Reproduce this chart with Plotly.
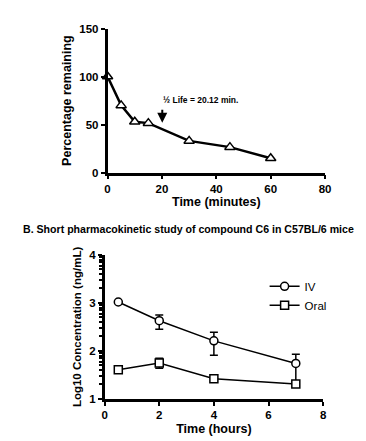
import plotly.graph_objects as go
import math

# Panel A: metabolic stability
time_min = [0, 5, 10, 15, 30, 45, 60]
pct_remaining = [100, 70, 53, 51.5, 33, 26.5, 15]
half_life_x = 20.12
half_life_label = "½ Life = 20.12 min."

# Panel B: pharmacokinetics
time_h = [0.5, 2, 4, 7]
iv = [3.02, 2.63, 2.21, 1.74]
iv_err_plus = [0, 0.12, 0.18, 0.19]
iv_err_minus = [0, 0.18, 0.30, 0.38]
oral = [1.61, 1.75, 1.42, 1.31]
oral_err_plus = [0, 0.10, 0, 0]
oral_err_minus = [0, 0.11, 0, 0]

x_ticks_a = [0, 20, 40, 60, 80]
y_ticks_a = [0, 50, 100, 150]
x_ticks_b = [0, 2, 4, 6, 8]
y_ticks_b = [1, 2, 3, 4]

minor_b = [d + math.log10(k) for d in (1, 2, 3) for k in range(2, 10)]

FONT = "Liberation Sans, Arial, sans-serif"
W, H = 366, 441

fig = go.Figure()

fig.add_trace(go.Scatter(
    x=time_min, y=pct_remaining, mode="lines+markers",
    line=dict(color="black", width=2.5),
    marker=dict(symbol="triangle-up", size=9, color="white",
                line=dict(color="black", width=1.5)),
    cliponaxis=False, showlegend=False, xaxis="x", yaxis="y"))

fig.add_trace(go.Scatter(
    x=time_h, y=iv, mode="lines+markers", name="IV",
    line=dict(color="black", width=1.5),
    marker=dict(symbol="circle", size=8, color="white",
                line=dict(color="black", width=1.5)),
    error_y=dict(type="data", symmetric=False, array=iv_err_plus,
                 arrayminus=iv_err_minus, color="black", thickness=1.5, width=4),
    cliponaxis=False, xaxis="x2", yaxis="y2"))

fig.add_trace(go.Scatter(
    x=time_h, y=oral, mode="lines+markers", name="Oral",
    line=dict(color="black", width=1.5),
    marker=dict(symbol="square", size=8, color="white",
                line=dict(color="black", width=1.5)),
    error_y=dict(type="data", symmetric=False, array=oral_err_plus,
                 arrayminus=oral_err_minus, color="black", thickness=1.5, width=4),
    cliponaxis=False, xaxis="x2", yaxis="y2"))

axis_common = dict(showline=True, linecolor="black", linewidth=2.5,
                   ticks="outside", ticklen=4, tickwidth=2, tickcolor="black",
                   showgrid=False, zeroline=False,
                   tickfont=dict(family=FONT, size=11.5, color="black", weight="bold"))

def px_x(p):
    return p / W

def px_y(p):
    return 1 - p / H

fig.update_layout(
    width=W, height=H, autosize=False,
    margin=dict(l=0, r=0, t=0, b=0),
    paper_bgcolor="white", plot_bgcolor="white",
    font=dict(family=FONT, color="black"),
    xaxis=dict(domain=[px_x(99), px_x(322)], range=[0, 80], tickvals=x_ticks_a,
               anchor="y",
               title=dict(text="Time (minutes)", standoff=3,
                          font=dict(family=FONT, size=12.5, weight="bold")),
               **axis_common),
    yaxis=dict(domain=[px_y(163), px_y(15)], range=[0, 150], tickvals=y_ticks_a,
               anchor="x",
               title=dict(text="Percentage remaining", standoff=5,
                          font=dict(family=FONT, size=12.5, weight="bold")),
               **axis_common),
    xaxis2=dict(domain=[px_x(96), px_x(320)], range=[0, 8], tickvals=x_ticks_b,
                anchor="y2",
                title=dict(text="Time (hours)", standoff=4,
                           font=dict(family=FONT, size=12.5, weight="bold")),
                **axis_common),
    yaxis2=dict(domain=[px_y(395.7), px_y(247.7)], range=[1, 4], tickvals=y_ticks_b,
                anchor="x2",
                minor=dict(tickvals=minor_b, ticks="outside", ticklen=2.5,
                           tickwidth=1.5, tickcolor="black", showgrid=False),
                title=dict(text="Log10 Concentration (ng/mL)", standoff=6,
                           font=dict(family=FONT, size=11.5, weight="bold")),
                **axis_common),
    legend=dict(x=px_x(260), y=px_y(265), xanchor="left", yanchor="top",
                font=dict(family=FONT, size=11.5), itemwidth=30,
                bgcolor="rgba(0,0,0,0)", tracegroupgap=0),
    showlegend=True,
)

fig.add_annotation(x=half_life_x, y=52, ax=half_life_x, ay=67,
                   xref="x", yref="y", axref="x", ayref="y",
                   showarrow=True, arrowhead=2, arrowsize=1, arrowwidth=2,
                   arrowcolor="black", text="")
fig.add_annotation(x=34, y=76, xref="x", yref="y", showarrow=False,
                   text=half_life_label,
                   font=dict(family=FONT, size=8.5, color="black", weight="bold"))
fig.add_annotation(x=px_x(182), y=px_y(221), xref="paper", yref="paper",
                   showarrow=False,
                   text="B. Short pharmacokinetic study of compound C6 in C57BL/6 mice",
                   font=dict(family=FONT, size=10.6, color="black", weight="bold"))

fig.write_html("out.html")
